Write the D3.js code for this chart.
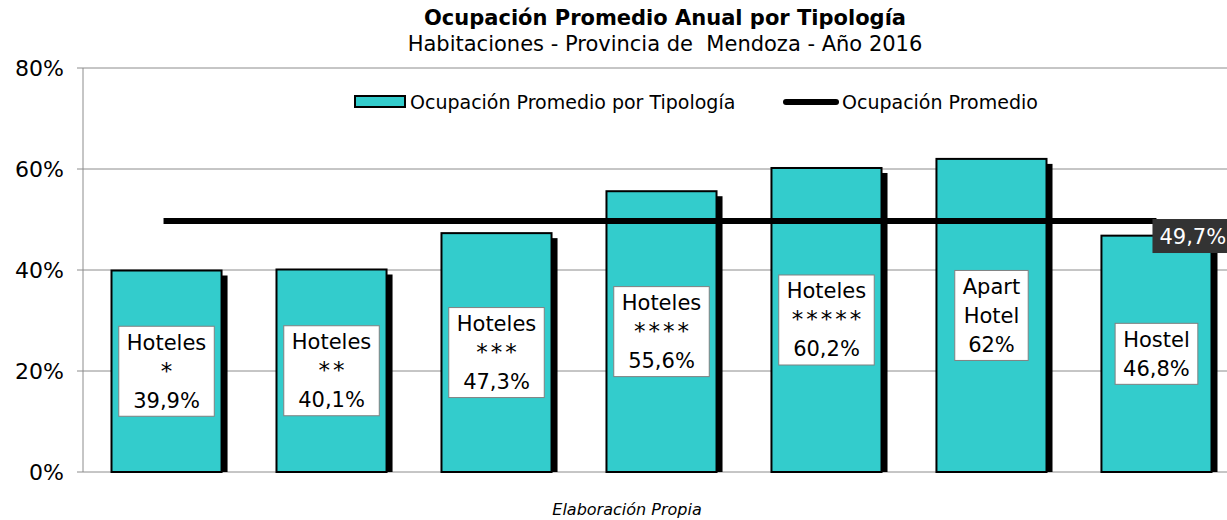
<!DOCTYPE html>
<html>
<head>
<meta charset="utf-8">
<script src="https://cdn.jsdelivr.net/npm/d3@7"></script>
<style>
    body { margin: 0; background: #fff; font-family: "DejaVu Sans", Verdana, sans-serif; }
    svg { display: block; }
</style>
</head>
<body>
<script>
// data
var categories = ["Hoteles *", "Hoteles **", "Hoteles ***", "Hoteles ****", "Hoteles *****", "Apart Hotel", "Hostel"];
var labelLines = [["Hoteles", "*"], ["Hoteles", "**"], ["Hoteles", "***"], ["Hoteles", "****"], ["Hoteles", "*****"], ["Apart", "Hotel"], ["Hostel"]];
var valueLabels = ["39,9%", "40,1%", "47,3%", "55,6%", "60,2%", "62%", "46,8%"];
var values = [39.9, 40.1, 47.3, 55.6, 60.2, 62, 46.8];
var average = 49.7;
var averageLabel = "49,7%";
var yTicks = [0, 20, 40, 60, 80];

var width = 1227, height = 520;
var margin = {left: 83, top: 68, bottom: 48};

var svg = d3.select("body").append("svg")
    .attr("width", width)
    .attr("height", height);

var x = d3.scaleBand()
    .domain(categories)
    .range([margin.left + 1, margin.left + 1 + 7 * 165])
    .paddingInner(0.333)
    .paddingOuter(0.1667);

var y = d3.scaleLinear()
    .domain([0, 80])
    .range([height - margin.bottom, margin.top]);

// gridlines
svg.append("g")
    .selectAll("line")
    .data(yTicks)
    .enter().append("line")
    .attr("x1", margin.left - 6)
    .attr("x2", width)
    .attr("y1", function(d) { return y(d); })
    .attr("y2", function(d) { return y(d); })
    .attr("stroke", "#8c8c8c")
    .attr("stroke-width", 1);

// y axis line
svg.append("line")
    .attr("x1", margin.left).attr("x2", margin.left)
    .attr("y1", y(80)).attr("y2", y(0))
    .attr("stroke", "#8c8c8c");

svg.append("g")
    .selectAll("text")
    .data(yTicks)
    .enter().append("text")
    .attr("x", 64)
    .attr("y", function(d) { return y(d) + 8; })
    .attr("text-anchor", "end")
    .attr("font-size", 22)
    .attr("fill", "#000")
    .text(function(d) { return d + "%"; });

// bar shadows
svg.append("g")
    .selectAll("rect")
    .data(values)
    .enter().append("rect")
    .attr("x", function(d, i) { return x(categories[i]) + 6; })
    .attr("y", function(d) { return y(d) + 5; })
    .attr("width", x.bandwidth())
    .attr("height", function(d) { return y(0) - y(d) - 5; })
    .attr("fill", "#000");

// bars
svg.append("g")
    .selectAll("rect")
    .data(values)
    .enter().append("rect")
    .attr("x", function(d, i) { return x(categories[i]); })
    .attr("y", function(d) { return y(d); })
    .attr("width", x.bandwidth())
    .attr("height", function(d) { return y(0) - y(d); })
    .attr("fill", "#33CCCC")
    .attr("stroke", "#000")
    .attr("stroke-width", 2);

// average line
svg.append("line")
    .attr("x1", x(categories[0]) + x.bandwidth() / 2 - 3)
    .attr("x2", x(categories[6]) + x.bandwidth() / 2)
    .attr("y1", y(average))
    .attr("y2", y(average))
    .attr("stroke", "#000")
    .attr("stroke-width", 6);

// average label
var avgX = x(categories[6]) + x.bandwidth() / 2 - 4;
svg.append("rect")
    .attr("x", avgX)
    .attr("y", y(average) - 2)
    .attr("width", 80)
    .attr("height", 34)
    .attr("fill", "#333333");
svg.append("text")
    .attr("x", avgX + 7)
    .attr("y", y(average) + 23)
    .attr("font-size", 21)
    .attr("fill", "#fff")
    .text(averageLabel);

// bar labels
var lineH = 29;
values.forEach(function(v, i) {
    var lines = labelLines[i].concat([valueLabels[i]]);
    var cx = x(categories[i]) + x.bandwidth() / 2;
    var cy = y(v / 2);
    var g = svg.append("g");
    var box = g.append("rect");
    var t = g.append("text")
        .attr("text-anchor", "middle")
        .attr("font-size", 21)
        .attr("fill", "#000");
    var top = cy - lines.length * lineH / 2;
    lines.forEach(function(s, j) {
        var sp = t.append("tspan")
            .attr("x", cx)
            .attr("y", top + j * lineH + 22)
            .text(s);
        if (s.charAt(0) === "*") sp.attr("letter-spacing", 3).attr("font-size", 23).attr("dx", 1.5);
    });
    var bb = t.node().getBBox();
    var w = bb.width + 16;
    var h = lines.length * lineH + 3;
    box.attr("x", cx - w / 2)
        .attr("y", cy - h / 2)
        .attr("width", w)
        .attr("height", h)
        .attr("fill", "#fff")
        .attr("stroke", "#808080")
        .attr("stroke-width", 1);
});

// title
svg.append("text")
    .attr("x", 665).attr("y", 25)
    .attr("text-anchor", "middle")
    .attr("font-size", 21)
    .attr("font-weight", "bold")
    .text("Ocupación Promedio Anual por Tipología");
svg.append("text")
    .attr("x", 665).attr("y", 51)
    .attr("text-anchor", "middle")
    .attr("font-size", 21)
    .style("white-space", "pre")
    .text("Habitaciones - Provincia de  Mendoza - Año 2016");

// legend
svg.append("rect")
    .attr("x", 355).attr("y", 96)
    .attr("width", 50).attr("height", 11)
    .attr("fill", "#33CCCC")
    .attr("stroke", "#000")
    .attr("stroke-width", 2);
svg.append("text")
    .attr("x", 410).attr("y", 109)
    .attr("font-size", 19)
    .text("Ocupación Promedio por Tipología");
svg.append("line")
    .attr("x1", 786).attr("x2", 836)
    .attr("y1", 102).attr("y2", 102)
    .attr("stroke", "#000")
    .attr("stroke-width", 6)
    .attr("stroke-linecap", "round");
svg.append("text")
    .attr("x", 842).attr("y", 109)
    .attr("font-size", 19)
    .text("Ocupación Promedio");

// footer
svg.append("text")
    .attr("x", 627).attr("y", 515)
    .attr("text-anchor", "middle")
    .attr("font-size", 16)
    .attr("font-style", "italic")
    .text("Elaboración Propia");
</script>
</body>
</html>
